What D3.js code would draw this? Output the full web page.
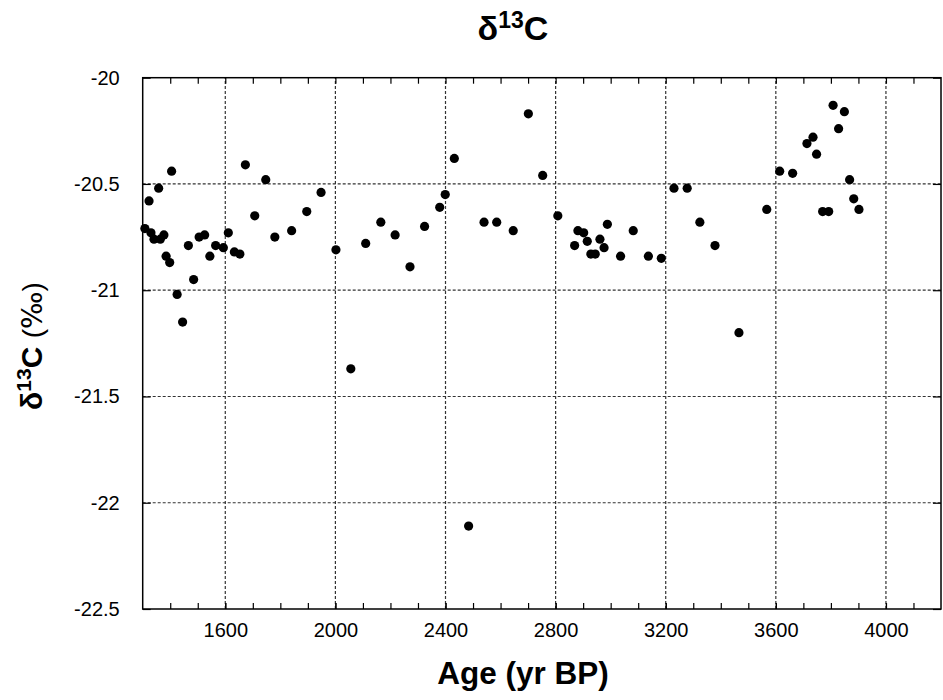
<!DOCTYPE html>
<html>
<head>
<meta charset="utf-8">
<script src="https://cdn.jsdelivr.net/npm/d3@7"></script>
<style>
	body { margin: 0; background: #fff; }
	svg { display: block; font-family: "Liberation Sans", Arial, Helvetica, sans-serif; }
</style>
</head>
<body>
<div id="chart01"></div>
<script>
// sample ages (yr BP) and d13C values
var ages = [
	1308, 1323, 1330, 1341, 1358, 1364, 1377, 1385, 1398, 1405,
	1425, 1445, 1466, 1485, 1505, 1525, 1544, 1565, 1593, 1611,
	1633, 1653, 1673, 1707, 1747, 1780, 1841, 1896, 1948, 2002,
	2056, 2110, 2165, 2217, 2271, 2324, 2379, 2399, 2432, 2484,
	2540, 2586, 2646, 2701, 2753, 2808, 2869, 2881, 2902, 2915,
	2928, 2944, 2961, 2976, 2988, 3036, 3082, 3137, 3184, 3230,
	3278, 3324, 3379, 3466, 3567, 3614, 3661, 3713, 3735, 3748,
	3770, 3792, 3808, 3828, 3849, 3868, 3883, 3902
];
var d13C = [
	-20.71, -20.58, -20.73, -20.76, -20.52, -20.76, -20.74, -20.84, -20.87, -20.44,
	-21.02, -21.15, -20.79, -20.95, -20.75, -20.74, -20.84, -20.79, -20.80, -20.73,
	-20.82, -20.83, -20.41, -20.65, -20.48, -20.75, -20.72, -20.63, -20.54, -20.81,
	-21.37, -20.78, -20.68, -20.74, -20.89, -20.70, -20.61, -20.55, -20.38, -22.11,
	-20.68, -20.68, -20.72, -20.17, -20.46, -20.65, -20.79, -20.72, -20.73, -20.77,
	-20.83, -20.83, -20.76, -20.80, -20.69, -20.84, -20.72, -20.84, -20.85, -20.52,
	-20.52, -20.68, -20.79, -21.20, -20.62, -20.44, -20.45, -20.31, -20.28, -20.36,
	-20.63, -20.63, -20.13, -20.24, -20.16, -20.48, -20.57, -20.62
];
var xTicks = [1600, 2000, 2400, 2800, 3200, 3600, 4000];
var xMinorTicks = d3.range(1400, 4200, 100);
var yTicks = [-22.5, -22, -21.5, -21, -20.5, -20];

var data = ages.map((a, i) => ({ age: a, value: d13C[i] }));

var width = 943;
var height = 700;
var margin = { top: 77.7, right: 2, bottom: 91, left: 142.7 };

var svg = d3.select("#chart01").append("svg").attr("width", width).attr("height", height);

var x = d3.scaleLinear().domain([1300, 4200]).range([margin.left, width - margin.right]);
var y = d3.scaleLinear().domain([-22.5, -20]).range([height - margin.bottom, margin.top]);

// dashed grid
svg.append("g")
	.selectAll("line")
	.data(xTicks)
	.enter()
	.append("line")
	.attr("x1", (d) => x(d)).attr("x2", (d) => x(d))
	.attr("y1", y(-22.5)).attr("y2", y(-20))
	.attr("stroke", "#333").attr("stroke-width", 1.2).attr("stroke-dasharray", "3,2");
svg.append("g")
	.selectAll("line")
	.data(yTicks.slice(1, -1))
	.enter()
	.append("line")
	.attr("x1", x(1300)).attr("x2", x(4200))
	.attr("y1", (d) => y(d)).attr("y2", (d) => y(d))
	.attr("stroke", "#333").attr("stroke-width", 1.2).attr("stroke-dasharray", "3,2");

// axes (ticks point inward)
var bottom = svg.append("g")
	.attr("transform", `translate(0,${y(-22.5)})`)
	.call(d3.axisBottom(x).tickValues(xTicks).tickSize(-6).tickPadding(14).tickFormat(d3.format("d")));
svg.append("g")
	.attr("transform", `translate(0,${y(-22.5)})`)
	.call(d3.axisBottom(x).tickValues(xMinorTicks).tickSize(-6).tickFormat(""));
svg.append("g")
	.attr("transform", `translate(0,${y(-20)})`)
	.call(d3.axisTop(x).tickValues(xMinorTicks).tickSize(-6).tickFormat(""));
var left = svg.append("g")
	.attr("transform", `translate(${x(1300)},0)`)
	.call(d3.axisLeft(y).tickValues(yTicks).tickSize(-8).tickPadding(23).tickFormat((d) => d3.format("")(d).replace("\u2212", "-")));
svg.append("g")
	.attr("transform", `translate(${x(4200)},0)`)
	.call(d3.axisRight(y).tickValues(yTicks).tickSize(-8).tickFormat(""));

svg.selectAll(".domain").remove();
svg.selectAll(".tick line").attr("stroke", "#000").attr("stroke-width", 1.2);
bottom.selectAll("text").attr("font-size", "20px").attr("font-family", null).attr("fill", "#000");
left.selectAll("text").attr("font-size", "20px").attr("font-family", null).attr("fill", "#000");

// frame
svg.append("rect")
	.attr("x", x(1300)).attr("y", y(-20))
	.attr("width", x(4200) - x(1300)).attr("height", y(-22.5) - y(-20))
	.attr("fill", "none").attr("stroke", "#000").attr("stroke-width", 1.5);

// points
svg.append("g")
	.selectAll("circle")
	.data(data)
	.enter()
	.append("circle")
	.attr("cx", (d) => x(d.age))
	.attr("cy", (d) => y(d.value))
	.attr("r", 4.6)
	.attr("fill", "#000");

// title
var title = svg.append("text")
	.attr("x", 513)
	.attr("y", 40)
	.attr("text-anchor", "middle")
	.attr("font-weight", "bold")
	.attr("font-size", "34px");
title.append("tspan").text("δ");
title.append("tspan").attr("font-size", "23px").attr("dy", -12).text("13");
title.append("tspan").attr("dy", 12).text("C");

// X axis label
svg.append("text")
	.attr("x", 523)
	.attr("y", 684)
	.attr("text-anchor", "middle")
	.attr("font-weight", "bold")
	.attr("font-size", "31.5px")
	.text("Age (yr BP)");

// Y axis label
var ylab = svg.append("text")
	.attr("transform", "translate(42,346) rotate(-90)")
	.attr("text-anchor", "middle")
	.attr("font-size", "30px");
ylab.append("tspan").attr("font-weight", "bold").text("δ");
ylab.append("tspan").attr("font-weight", "bold").attr("font-size", "21px").attr("dy", -11).text("13");
ylab.append("tspan").attr("font-weight", "bold").attr("dy", 11).text("C");
ylab.append("tspan").text(" ");
ylab.append("tspan").attr("font-size", "28px").text("(");
ylab.append("tspan").attr("font-size", "28px").attr("font-family", "DejaVu Sans").text("‰");
ylab.append("tspan").attr("font-size", "28px").text(")");
</script>
</body>
</html>
